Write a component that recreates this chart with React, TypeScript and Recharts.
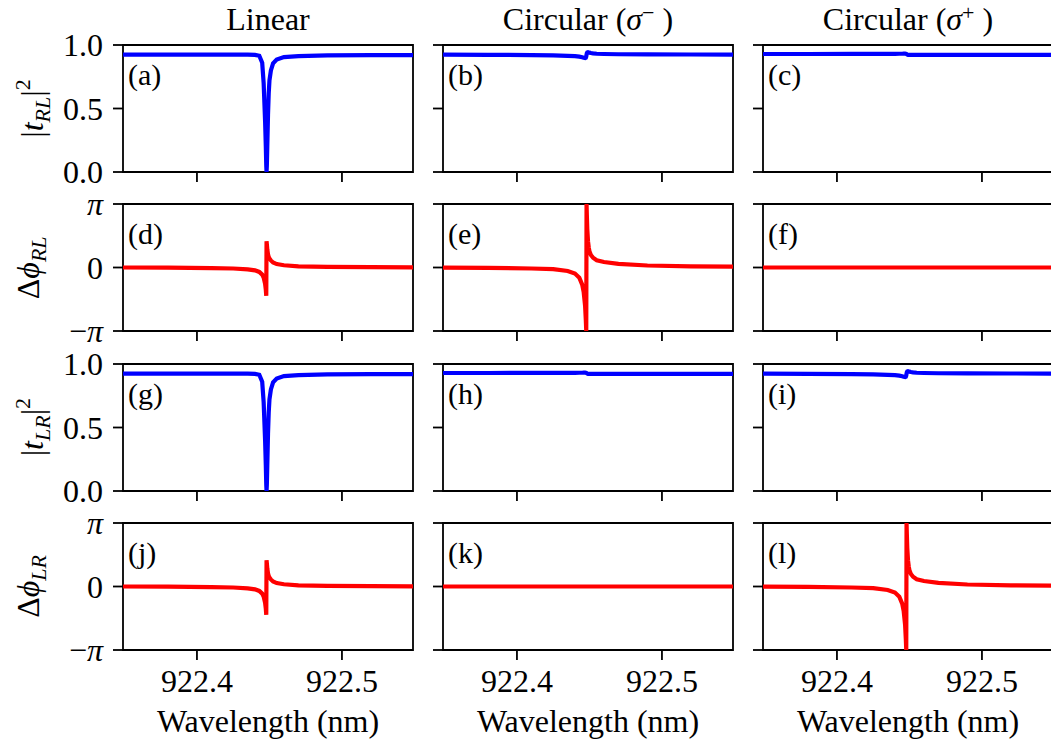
import React from 'react';
import { LineChart, Line, XAxis, YAxis, ReferenceArea } from 'recharts';

// ---------- data ----------
const wavelengths = [
  922.349, 922.38, 922.41, 922.425, 922.435, 922.44, 922.443, 922.445, 922.446, 922.447,
  922.4475, 922.4478, 922.448, 922.4482, 922.4485, 922.449, 922.4495, 922.45, 922.451,
  922.4525, 922.455, 922.46, 922.47, 922.49, 922.52, 922.549,
];

// |t|^2, linear polarisation (panels a, g)
const transLinear = [
  0.925, 0.925, 0.925, 0.925, 0.924, 0.922, 0.915, 0.86, 0.7, 0.4,
  0.2, 0.05, 0.0, 0.05, 0.2, 0.45, 0.62, 0.72, 0.8,
  0.855, 0.885, 0.905, 0.913, 0.918, 0.92, 0.92,
];
// |t|^2, circular with small dispersive feature (panels b, i)
const transCircDip = [
  0.924, 0.923, 0.921, 0.919, 0.915, 0.912, 0.908, 0.903, 0.899, 0.897,
  0.9, 0.91, 0.925, 0.935, 0.942, 0.944, 0.942, 0.94, 0.937,
  0.934, 0.931, 0.929, 0.927, 0.926, 0.925, 0.925,
];
// |t|^2, circular with tiny step (panels c, h)
const transCircStep = [
  0.929, 0.929, 0.93, 0.93, 0.93, 0.93, 0.931, 0.931, 0.932, 0.932,
  0.931, 0.93, 0.928, 0.926, 0.924, 0.922, 0.922, 0.922, 0.922,
  0.922, 0.922, 0.922, 0.922, 0.922, 0.922, 0.922,
];
// phase, linear (panels d, j)
const phaseLinear = [
  0.0, -0.01, -0.03, -0.05, -0.09, -0.14, -0.22, -0.35, -0.5, -0.8,
  -1.1, -1.4, 1.3, 1.15, 0.9, 0.65, 0.52, 0.45, 0.35,
  0.25, 0.17, 0.11, 0.06, 0.03, 0.015, 0.01,
];
// phase, circular full 2π swing (panels e, l)
const phaseCircFull = [
  -0.01, -0.02, -0.05, -0.08, -0.17, -0.3, -0.5, -0.85, -1.2, -1.9,
  -2.6, -3.1416, 3.1416, 2.6, 1.9, 1.3, 1.0, 0.8, 0.62,
  0.48, 0.36, 0.27, 0.18, 0.1, 0.06, 0.04,
];
// phase, flat (panels f, k)
const phaseFlat = [
  0, 0, 0, 0, 0, 0, 0, 0, 0, 0, 0, 0, 0, 0, 0, 0, 0, 0, 0, 0, 0, 0, 0, 0, 0, 0,
];

const xTicks = [922.4, 922.5];
const transTicks = [0, 0.5, 1.0];
const phaseTicks = [-Math.PI, 0, Math.PI];
const panelLetters = ['a', 'b', 'c', 'd', 'e', 'f', 'g', 'h', 'i', 'j', 'k', 'l'];
const columnTitles = ['Linear', 'Circular (σ−)', 'Circular (σ+)'];

// ---------- layout ----------
const FONT = "'Liberation Serif', 'Times New Roman', Times, 'DejaVu Serif', 'Noto Serif', serif";
const FS = 32;
const LFS = 30;
const X_DOMAIN: [number, number] = [922.349, 922.549];
const COL_LEFT = [123, 443, 763];
const ROW_TOP = [45, 204.3, 363.6, 522.9];
const PW = 290;
const PH = 127;
const BLUE = '#0000ff';
const RED = '#ff0000';

const grid = [
  [transLinear, transCircDip, transCircStep],
  [phaseLinear, phaseCircFull, phaseFlat],
  [transLinear, transCircStep, transCircDip],
  [phaseLinear, phaseFlat, phaseCircFull],
];

const fmtPhase = (v: number) => {
  if (Math.abs(v) < 1e-9) return <tspan>0</tspan>;
  if (v < 0)
    return (
      <>
        <tspan>−</tspan>
        <tspan fontStyle="italic">π</tspan>
      </>
    );
  return <tspan fontStyle="italic">π</tspan>;
};

const makeYTick = (show: boolean, phase: boolean) => (props: any) => {
  const { x, y, payload } = props;
  if (!show) return <g />;
  return (
    <text x={x} y={y} dy="0.355em" textAnchor="end" fontSize={FS} fill="#000" style={{ fontFamily: FONT }}>
      {phase ? fmtPhase(payload.value) : payload.value.toFixed(1)}
    </text>
  );
};

const makeXTick = (show: boolean) => (props: any) => {
  const { x, y, payload } = props;
  if (!show) return <g />;
  return (
    <text x={x} y={y} dy="0.71em" textAnchor="middle" fontSize={FS} fill="#000" style={{ fontFamily: FONT }}>
      {payload.value.toFixed(1)}
    </text>
  );
};

function Panel({ row, col }: { row: number; col: number }) {
  const series = grid[row][col];
  const data = wavelengths.map((w, i) => ({ wl: w, v: series[i] }));
  const phase = row % 2 === 1;
  const padL = col === 0 ? 123 : 20;
  const padT = 24;
  const padR = 6;
  const padB = row === 3 ? 64 : 24;
  const yDomain: [number, number] = phase ? [-Math.PI, Math.PI] : [0, 1];
  return (
    <div style={{ position: 'absolute', left: COL_LEFT[col] - padL, top: ROW_TOP[row] - padT }}>
      <LineChart
        width={padL + PW + padR}
        height={padT + PH + padB}
        data={data}
        margin={{ top: padT, right: padR, left: 0, bottom: 0 }}
      >
        <XAxis
          dataKey="wl"
          type="number"
          domain={X_DOMAIN}
          allowDataOverflow
          ticks={xTicks}
          height={padB}
          axisLine={false}
          tickLine={{ stroke: '#000', strokeWidth: 1.8 }}
          tickSize={10}
          tickMargin={9}
          tick={makeXTick(row === 3)}
          interval={0}
        />
        <YAxis
          type="number"
          domain={yDomain}
          allowDataOverflow
          ticks={phase ? phaseTicks : transTicks}
          width={padL}
          axisLine={false}
          tickLine={{ stroke: '#000', strokeWidth: 1.8 }}
          tickSize={10}
          tickMargin={10}
          tick={makeYTick(col === 0, phase)}
          interval={0}
        />
        <Line
          type="linear"
          dataKey="v"
          stroke={phase ? RED : BLUE}
          strokeWidth={4.2}
          dot={false}
          isAnimationActive={false}
        />
        <ReferenceArea
          x1={X_DOMAIN[0]}
          x2={X_DOMAIN[1]}
          y1={yDomain[0]}
          y2={yDomain[1]}
          fill="none"
          fillOpacity={0}
          stroke="#000"
          strokeWidth={1.8}
          ifOverflow="visible"
        />
      </LineChart>
    </div>
  );
}

function Overlay() {
  const sub = 22;
  const yLabel = (row: number) => {
    const cy = ROW_TOP[row] + PH / 2;
    const idx = row < 2 ? 'RL' : 'LR';
    if (row % 2 === 0) {
      return (
        <text
          key={'yl' + row}
          transform={`translate(43, ${cy}) rotate(-90)`}
          textAnchor="middle"
          fontSize={FS}
          fill="#000"
          style={{ fontFamily: FONT }}
        >
          |<tspan fontStyle="italic">t</tspan>
          <tspan fontStyle="italic" fontSize={sub} dy={7}>
            {idx}
          </tspan>
          <tspan dy={-7}>|</tspan>
          <tspan fontSize={sub} dy={-13}>
            2
          </tspan>
        </text>
      );
    }
    return (
      <text
        key={'yl' + row}
        transform={`translate(39, ${cy}) rotate(-90)`}
        textAnchor="middle"
        fontSize={FS}
        fill="#000"
        style={{ fontFamily: FONT }}
      >
        Δ<tspan fontStyle="italic">ϕ</tspan>
        <tspan fontStyle="italic" fontSize={sub} dy={7}>
          {idx}
        </tspan>
      </text>
    );
  };
  return (
    <svg
      width={1051}
      height={742}
      style={{ position: 'absolute', left: 0, top: 0, pointerEvents: 'none', fontFamily: FONT }}
    >
      {columnTitles.map((t, c) => {
        const cx = COL_LEFT[c] + PW / 2;
        if (c === 0)
          return (
            <text key={t} x={cx} y={30} textAnchor="middle" fontSize={FS} fill="#000" style={{ fontFamily: FONT }}>
              {t}
            </text>
          );
        const sign = t.includes('−') ? '−' : '+';
        return (
          <text key={t} x={cx} y={30} textAnchor="middle" fontSize={FS} fill="#000" style={{ fontFamily: FONT }}>
            Circular (<tspan fontStyle="italic">σ</tspan>
            <tspan fontSize={sub} dy={-10}>
              {sign}
            </tspan>
            <tspan dy={10}> )</tspan>
          </text>
        );
      })}
      {[0, 1, 2, 3].map((r) => yLabel(r))}
      {panelLetters.map((l, i) => {
        const r = Math.floor(i / 3);
        const c = i % 3;
        return (
          <text key={l} x={COL_LEFT[c] + 5} y={ROW_TOP[r] + 40} fontSize={LFS} fill="#000" style={{ fontFamily: FONT }}>
            ({l})
          </text>
        );
      })}
      {COL_LEFT.map((x, c) => (
        <text
          key={'xl' + c}
          x={x + PW / 2}
          y={732}
          textAnchor="middle"
          fontSize={FS}
          fill="#000"
          style={{ fontFamily: FONT }}
        >
          Wavelength (nm)
        </text>
      ))}
    </svg>
  );
}

export default function App() {
  const panels = [];
  for (let r = 0; r < 4; r++) for (let c = 0; c < 3; c++) panels.push(<Panel key={`${r}-${c}`} row={r} col={c} />);
  return (
    <div
      style={{
        position: 'absolute',
        left: 0,
        top: 0,
        width: 1051,
        height: 742,
        overflow: 'hidden',
        background: '#fff',
        fontFamily: FONT,
      }}
    >
      {panels}
      <Overlay />
    </div>
  );
}
